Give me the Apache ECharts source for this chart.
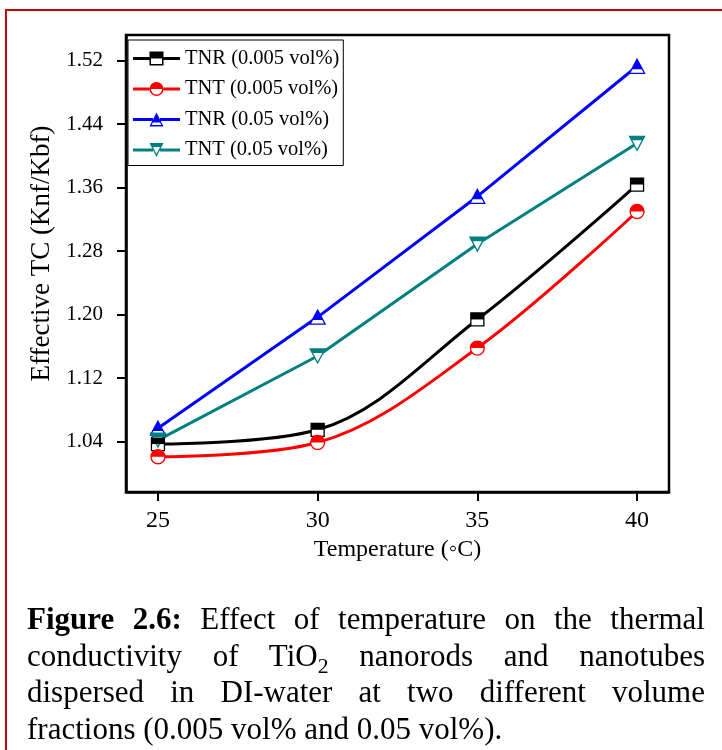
<!DOCTYPE html>
<html><head><meta charset="utf-8">
<script src="https://cdn.jsdelivr.net/npm/echarts@6/dist/echarts.min.js"></script>
<style>
html,body{margin:0;padding:0;background:#fff;overflow:hidden;width:722px;height:750px;}
#frame{position:absolute;left:5px;top:9px;width:760px;height:800px;border-left:2px solid #cc0000;border-top:2px solid #cc0000;}
#chart{position:absolute;left:0;top:0;width:722px;height:750px;}
#cap{position:absolute;left:27px;top:601px;width:678px;font-family:'Liberation Serif','Times New Roman',serif;font-size:31px;line-height:36.5px;color:#000;}
#cap .j{text-align:justify;text-align-last:justify;}
#cap .l{text-align:left;}
</style>
</head><body>
<div id="frame"></div>
<div id="chart"></div>
<div id="cap">
<div class="j"><b>Figure 2.6:</b> Effect of temperature on the thermal</div>
<div class="j">conductivity of TiO<sub style="font-size:0.7em;line-height:0">2</sub> nanorods and nanotubes</div>
<div class="j">dispersed in DI-water at two different volume</div>
<div class="l">fractions (0.005 vol% and 0.05 vol%).</div>
</div>
<script>
// ---- data ----
const temps = [25, 30, 35, 40];
const tnr005 = [1.037, 1.055, 1.194, 1.364];
const tnt005 = [1.021, 1.039, 1.158, 1.330];
const tnr05  = [1.057, 1.197, 1.349, 1.513];
const tnt05  = [1.042, 1.148, 1.289, 1.416];
const xTicks = [25, 30, 35, 40];
const yTicks = [1.04, 1.12, 1.20, 1.28, 1.36, 1.44, 1.52];
const seriesNames = ['TNR (0.005 vol%)', 'TNT (0.005 vol%)', 'TNR (0.05 vol%)', 'TNT (0.05 vol%)'];
const seriesValues = [tnr005, tnt005, tnr05, tnt05];

// ---- styles ----
const colors = ['#000000', '#ff0000', '#0000ff', '#008080'];
const smoothFlags = [0.35, 0.35, false, false];
const LINE_L = 'M0,55L165,55L165,85L0,85Z ';
const LINE_R = 'M305,55L470,55L470,85L305,85Z ';
const LINE_LT = 'M0,55L200,55L200,85L0,85Z ';
const LINE_RT = 'M270,55L470,55L470,85L270,85Z ';
const legendIcons = [
  'path://' + LINE_L + LINE_R + 'M165,0L305,0L305,140L165,140Z M180,15L180,125L290,125L290,15Z M165,0L305,0L305,70L165,70Z',
  'path://' + LINE_L + LINE_R + 'M165,70A70,70 0 1 1 305,70A70,70 0 1 1 165,70Z M180,70A55,55 0 1 0 290,70A55,55 0 1 0 180,70Z M165,70A70,70 0 0 1 305,70Z',
  'path://' + LINE_LT + LINE_RT + 'M235,0L305,140L165,140Z M235,32L186,126L284,126Z M235,0L284.5,99L185.5,99Z',
  'path://' + LINE_LT + LINE_RT + 'M165,0L305,0L235,140Z M186,13L235,110L284,13Z M165,0L305,0L284.5,41L185.5,41Z'
];
const outlineSym = [
  {symbol: 'rect', size: 13, rotate: 0},
  {symbol: 'circle', size: 14, rotate: 0},
  {symbol: 'triangle', size: [15, 14], rotate: 0},
  {symbol: 'triangle', size: [15, 14], rotate: 180}
];
const halfSym = [
  {symbol: 'rect', size: [13, 6.5], offset: [0, -3.25]},
  {symbol: 'path://M0,10A10,10 0 0 1 20,10Z', size: [14, 7], offset: [0, -3.5]},
  {symbol: 'triangle', size: [10.6, 9.9], offset: [0, -2.05]},
  {symbol: 'path://M0,0L20,0L17.07,5.86L2.93,5.86Z', size: [15, 4.1], offset: [0, -4.95]}
];
const FONT = "'Liberation Serif','Times New Roman',serif";

const series = [];
seriesValues.forEach((vals, i) => {
  const pts = temps.map((t, k) => [t, vals[k]]);
  series.push({
    name: seriesNames[i], type: 'line', data: pts, smooth: smoothFlags[i],
    symbol: 'none', z: 2,
    lineStyle: {color: colors[i], width: 3},
    itemStyle: {color: colors[i]}
  });
  series.push({
    name: seriesNames[i] + ' o', type: 'scatter', data: pts, z: 3,
    symbol: outlineSym[i].symbol, symbolSize: outlineSym[i].size, symbolRotate: outlineSym[i].rotate,
    itemStyle: {color: '#ffffff', borderColor: colors[i], borderWidth: 1.3, opacity: 1}
  });
  series.push({
    name: seriesNames[i] + ' h', type: 'scatter', data: pts, z: 4,
    symbol: halfSym[i].symbol, symbolSize: halfSym[i].size, symbolOffset: halfSym[i].offset,
    itemStyle: {color: colors[i], opacity: 1}
  });
});

const chart = echarts.init(document.getElementById('chart'), null, {renderer: 'canvas'});
chart.setOption({
  animation: false,
  backgroundColor: 'transparent',
  grid: {left: 126, right: 53, top: 35, bottom: 258, show: true, borderColor: '#000', borderWidth: 2.5, containLabel: false},
  legend: {
    data: seriesNames.map((n, i) => ({name: n, icon: legendIcons[i]})),
    orient: 'vertical', left: 128, top: 40,
    padding: [8, 4, 5, 5], itemGap: 9.5, itemWidth: 47, itemHeight: 14, itemTextGap: 3,
    borderColor: '#000', borderWidth: 1, backgroundColor: '#fff',
    itemStyle: {borderWidth: 0},
    textStyle: {fontFamily: FONT, fontSize: 20.5, color: '#000', lineHeight: 20},
    selectedMode: false
  },
  xAxis: {
    type: 'value', min: 24, max: 41,
    name: 'Temperature (\u25E6C)', nameLocation: 'middle', nameGap: 46,
    nameTextStyle: {fontFamily: FONT, fontSize: 24, color: '#000'},
    axisLine: {show: true, lineStyle: {color: '#000', width: 2.5}},
    axisTick: {show: true, inside: false, length: 9, lineStyle: {color: '#000', width: 2}, customValues: xTicks},
    axisLabel: {fontFamily: FONT, fontSize: 24, color: '#000', margin: 17, customValues: xTicks},
    splitLine: {show: false}
  },
  yAxis: {
    type: 'value', min: 0.9766, max: 1.5524,
    name: 'Effective TC (Knf/Kbf)', nameLocation: 'middle', nameGap: 65,
    nameTextStyle: {fontFamily: FONT, fontSize: 27, color: '#000', padding: [0, 0, 0, 20]},
    axisLine: {show: true, lineStyle: {color: '#000', width: 2.5}},
    axisTick: {show: true, inside: false, length: 9, lineStyle: {color: '#000', width: 2}, customValues: yTicks},
    axisLabel: {fontFamily: FONT, fontSize: 21, color: '#000', margin: 23, customValues: yTicks,
      formatter: v => v.toFixed(2)},
    splitLine: {show: false}
  },
  series: series
});
</script>
</body></html>
